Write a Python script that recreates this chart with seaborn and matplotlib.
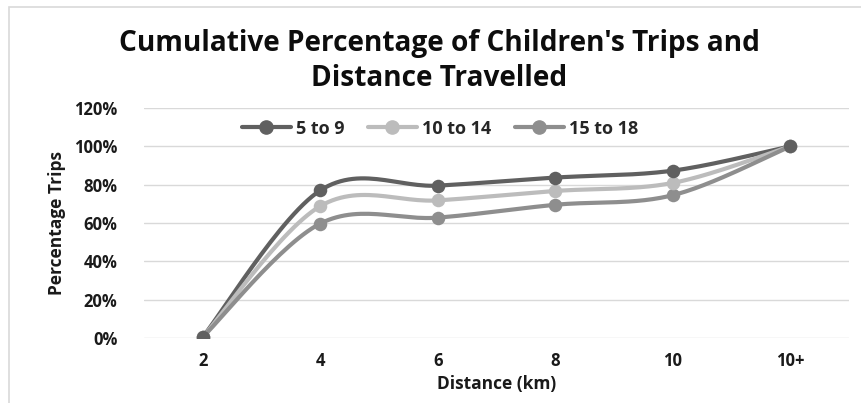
import numpy as np
import pandas as pd
import matplotlib
matplotlib.use("Agg")
import matplotlib.pyplot as plt
from matplotlib.patches import Rectangle
from matplotlib.ticker import PercentFormatter
import seaborn as sns

# Distance bands and cumulative share of trips per age group
distance = ["2", "4", "6", "8", "10", "10+"]
age_5_9 = [0.005, 0.77, 0.795, 0.837, 0.873, 1.00]
age_10_14 = [0.005, 0.688, 0.718, 0.767, 0.809, 1.00]
age_15_18 = [0.005, 0.597, 0.628, 0.695, 0.745, 1.00]
groups = ["5 to 9", "10 to 14", "15 to 18"]
y_ticks = [0, 0.2, 0.4, 0.6, 0.8, 1.0, 1.2]

series = {"5 to 9": age_5_9, "10 to 14": age_10_14, "15 to 18": age_15_18}
df = pd.DataFrame(
    [(i, d, g, v[i]) for g, v in series.items() for i, d in enumerate(distance)],
    columns=["pos", "distance", "group", "share"],
)

palette = {"5 to 9": "#606060", "10 to 14": "#bcbcbc", "15 to 18": "#8e8e8e"}


def smooth(xs, ys, n=30):
    """Cardinal (Catmull-Rom style) spline through the points, as spreadsheet smoothed lines."""
    xs = np.asarray(xs, float)
    ys = np.asarray(ys, float)
    px = np.concatenate([[xs[0]], xs, [xs[-1]]])
    py = np.concatenate([[ys[0]], ys, [ys[-1]]])
    out_x, out_y = [], []
    t = np.linspace(0, 1, n)
    for i in range(1, len(px) - 2):
        p0 = np.array([px[i], py[i]])
        p3 = np.array([px[i + 1], py[i + 1]])
        p1 = p0 + (np.array([px[i + 1], py[i + 1]]) - np.array([px[i - 1], py[i - 1]])) / 6
        p2 = p3 - (np.array([px[i + 2], py[i + 2]]) - np.array([px[i], py[i]])) / 6
        b = ((1 - t) ** 3)[:, None] * p0 + (3 * (1 - t) ** 2 * t)[:, None] * p1 \
            + (3 * (1 - t) * t ** 2)[:, None] * p2 + (t ** 3)[:, None] * p3
        out_x.extend(b[:, 0])
        out_y.extend(b[:, 1])
    return np.array(out_x), np.array(out_y)


sns.set_theme(style="white")
plt.rcParams["font.family"] = ["Open Sans", "DejaVu Sans"]

fig = plt.figure(figsize=(8.61, 4.03), dpi=100)
ax = fig.add_axes([144 / 861, 1 - 338 / 403, (849 - 144) / 861, (338 - 108) / 403])

# outer chart frame
fig.patches.append(Rectangle((9 / 861, -0.05), 1.0, 1 - 7 / 403 + 0.05,
                             transform=fig.transFigure, fill=False,
                             edgecolor="#d9d9d9", linewidth=1.2))

for g in groups:
    sub = df[df["group"] == g]
    sx, sy = smooth(sub["pos"], sub["share"])
    sns.lineplot(x=sx, y=sy, ax=ax, color=palette[g], linewidth=3, sort=False,
                 estimator=None)

for g in groups[::-1]:
    sub = df[df["group"] == g]
    sns.scatterplot(x=sub["pos"], y=sub["share"], ax=ax, color=palette[g], s=95,
                    edgecolor=palette[g], linewidth=0, zorder=3)

ax.set_xlim(-0.5, len(distance) - 0.5)
ax.set_ylim(0, 1.2)
ax.set_xticks(range(len(distance)))
ax.set_xticklabels(distance)
ax.set_yticks(y_ticks)
ax.yaxis.set_major_formatter(PercentFormatter(1.0, decimals=0))
ax.grid(axis="y", color="#d9d9d9", linewidth=1)
ax.set_axisbelow(True)
for s in ax.spines.values():
    s.set_visible(False)
ax.tick_params(axis="both", length=0, labelsize=12, colors="#1a1a1a")
ax.tick_params(axis="x", pad=10)
ax.tick_params(axis="y", pad=19)
for lab in ax.get_xticklabels() + ax.get_yticklabels():
    lab.set_fontweight("bold")

ax.set_xlabel("Distance (km)", fontsize=12.5, fontweight="bold", color="#1a1a1a", labelpad=4)
ax.set_ylabel("Percentage Trips", fontsize=12.5, fontweight="bold", color="#1a1a1a", labelpad=6)

fig.text(439 / 861, 1 - 61 / 403, "Cumulative Percentage of Children's Trips and\nDistance Travelled",
         ha="center", va="center", fontsize=20.2, fontweight="bold", color="#0d0d0d",
         linespacing=1.25)

handles = [plt.Line2D([], [], color=palette[g], linewidth=3, marker="o", markersize=9.5)
           for g in groups]
leg = ax.legend(handles, groups, loc="center", bbox_to_anchor=(0.42, 0.91), ncol=3,
                frameon=False, handlelength=2.7, columnspacing=1.3, handletextpad=0.3,
                prop={"weight": "bold", "size": 13})

fig.savefig("out.png", dpi=100, facecolor="white")
